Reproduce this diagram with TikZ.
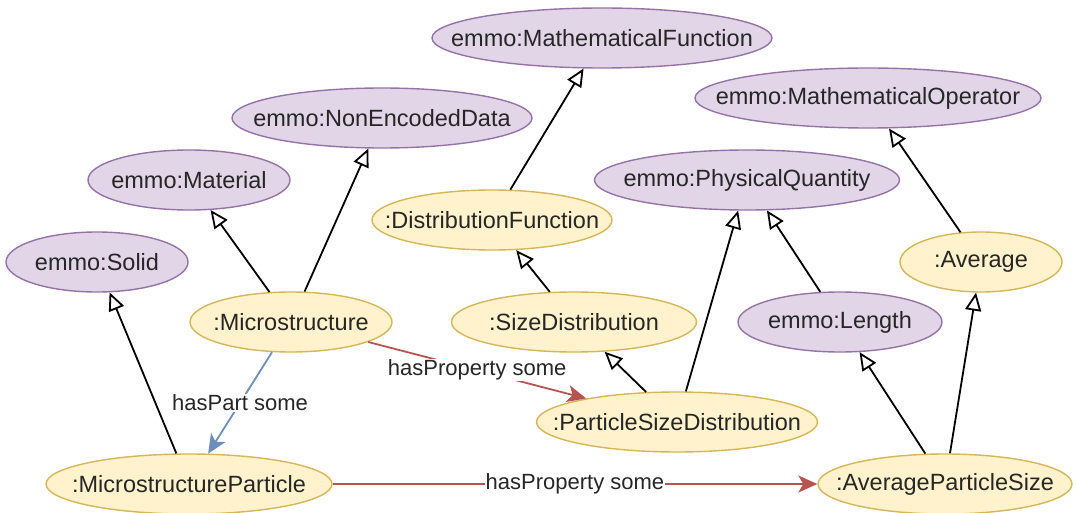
\documentclass[tikz,border=0pt]{standalone}
\usepackage{fontspec}
\setmainfont{Liberation Sans}
\usetikzlibrary{shapes.geometric,arrows.meta}
\definecolor{pfill}{HTML}{E1D5E7}
\definecolor{pdraw}{HTML}{9673A6}
\definecolor{yfill}{HTML}{FFF2CC}
\definecolor{ydraw}{HTML}{D6B656}
\definecolor{redl}{HTML}{B85450}
\definecolor{bluel}{HTML}{6C8EBF}
\definecolor{txt}{HTML}{262626}
\newcommand{\zb}[1]{\makebox[0pt][c]{#1}}
\begin{document}
\begin{tikzpicture}[x=1pt,y=-1pt,
  cls/.style={ellipse, inner sep=0pt, minimum height=60pt, line width=1.4pt,
    font=\fontsize{23.5}{28}\selectfont, text=txt},
  emmo/.style={cls, fill=pfill, draw=pdraw},
  own/.style={cls, fill=yfill, draw=ydraw},
  isa/.style={line width=1.8pt, draw=black,
    -{Triangle[open, fill=white, length=18pt, width=16pt]}},
  rel/.style={line width=1.8pt, -{Stealth[length=19pt, width=17pt, inset=5pt]}},
  lbl/.style={fill=white, inner sep=1pt, font=\fontsize{22}{26}\selectfont, text=txt}
]
\useasboundingbox (0,0) rectangle (1077,513);

\node[emmo, minimum width=340pt] (mf) at (602,38) {\zb{emmo:MathematicalFunction}};
\node[emmo, minimum width=346pt] (mo) at (868,98) {\zb{emmo:MathematicalOperator}};
\node[emmo, minimum width=300pt] (ned) at (382,118) {\zb{emmo:NonEncodedData}};
\node[emmo, minimum width=202pt] (mat) at (189,180) {\zb{emmo:Material}};
\node[emmo, minimum width=305pt] (pq) at (747,180) {\zb{emmo:PhysicalQuantity}};
\node[own, minimum width=240pt] (df) at (492,220) {\zb{:DistributionFunction}};
\node[emmo, minimum width=182pt] (sol) at (97,262) {\zb{emmo:Solid}};
\node[own, minimum width=162pt] (avg) at (981,262) {\zb{:Average}};
\node[own, minimum width=202pt] (ms) at (291,322) {\zb{:Microstructure}};
\node[own, minimum width=245pt] (sd) at (574,322) {\zb{:SizeDistribution}};
\node[emmo, minimum width=204pt] (len) at (840,322) {\zb{emmo:Length}};
\node[own, minimum width=281pt] (psd) at (677,422) {\zb{:ParticleSizeDistribution}};
\node[own, minimum width=286pt] (mp) at (189,484) {\zb{:MicrostructureParticle}};
\node[own, minimum width=254pt] (aps) at (945,484) {\zb{:AverageParticleSize}};

\draw[isa] (ms) -- (mat);
\draw[isa] (ms) -- (ned);
\draw[isa] (mp) -- (sol);
\draw[isa] (df) -- (mf);
\draw[isa] (sd) -- (df);
\draw[isa] (psd) -- (sd);
\draw[isa] (psd) -- (pq);
\draw[isa] (len) -- (pq);
\draw[isa] (avg) -- (mo);
\draw[isa] (aps) -- (len);
\draw[isa] (aps) -- (avg);

\draw[rel, draw=bluel, fill=bluel] (ms) -- node[lbl] {hasPart some} (mp);
\draw[rel, draw=redl, fill=redl] (ms) -- node[lbl] {hasProperty some} (psd);
\draw[rel, draw=redl, fill=redl] (mp) -- node[lbl] {hasProperty some} (aps);
\end{tikzpicture}
\end{document}
